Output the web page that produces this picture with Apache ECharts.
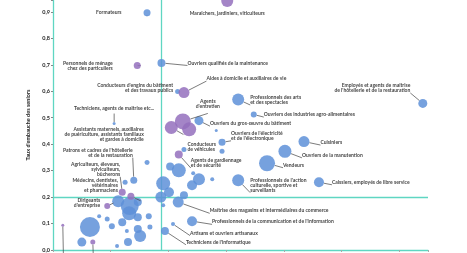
<!DOCTYPE html>
<html>
<head>
<meta charset="utf-8">
<script src="https://cdn.jsdelivr.net/npm/echarts@6/dist/echarts.min.js"></script>
<style>
html,body{margin:0;padding:0;background:#fff}
#chart{width:467px;height:253px}
</style>
</head>
<body>
<div id="chart"></div>
<script>
// métiers (noms affichés, '' = étiquette hors cadre)
var metiers = [
	'Maraîchers, jardiniers, viticulteurs',
	'Formateurs',
	'Personnels de ménage\nchez des particuliers',
	'Ouvriers qualifiés de la maintenance',
	'Aides à domicile et auxiliaires de vie',
	"Conducteurs d'engins du bâtiment\net des travaux publics",
	"Employés et agents de maîtrise\nde l'hôtellerie et de la restauration",
	'Professionnels des arts\net des spectacles',
	'Ouvriers des industries agro-alimentaires',
	'Techniciens, agents de maîtrise etc...',
	"Agents\nd'entretien",
	'Assistants maternels, auxiliaires\nde puériculture, assistants familiaux\net gardes à domicile',
	'Ouvriers du gros-œuvre du bâtiment',
	"Ouvriers de l'électricité\net de l'électronique",
	'Conducteurs\nde véhicules',
	'Agents de gardiennage\net de sécurité',
	'Cuisiniers',
	'Ouvriers de la manutention',
	'Vendeurs',
	"Professionnels de l'action\nculturelle, sportive et\nsurveillants",
	'Caissiers, employés de libre service',
	'Maîtrise des magasins et intermédiaires du commerce',
	"Professionnels de la communication et de l'information",
	'Artisans et ouvriers artisanaux',
	"Techniciens de l'informatique",
	"Patrons et cadres de l'hôtellerie\net de la restauration",
	'Agriculteurs, éleveurs,\nsylviculteurs,\nbûcherons',
	'Médecins, dentistes,\nvétérinaires\net pharmaciens',
	"Dirigeants\nd'entreprise",
	'', '',
	'-', '-', '-', '-', '-', '-', '-', '-', '-', '-',
	'-', '-', '-', '-', '-', '-', '-', '-', '-', '-',
	'-', '-', '-', '-', '-', '-', '-', '-', '-', '-',
	'-', '-', '-', '-'
];
// axe horizontal (hors cadre)
var indicateur = [
	3.02, 1.63, 1.46, 1.88, 2.27, 2.16, 6.41, 3.21, 3.48, 1.06,
	2.25, 2.05, 2.53, 2.93, 2.27, 2.18, 4.35, 4.02, 3.71, 3.21,
	4.61, 2.17, 2.41, 2.08, 1.94, 1.40, 1.20, 1.35, 0.94,
	0.17, 0.69,
	2.36, 1.63, 1.25, 2.18, 2.03, 2.43, 2.53, 2.41, 2.76, 1.91,
	2.01, 1.87, 2.27, 1.91, 1.33, 1.13, 1.47, 1.32, 1.47, 1.66,
	1.20, 1.02, 0.94, 0.80, 0.64, 1.47, 1.51, 1.28, 1.68, 1.30,
	1.11, 0.50, 2.83, 2.93
];
// taux d'embauche des seniors
var tauxSeniors = [
	0.941, 0.897, 0.697, 0.707, 0.595, 0.599, 0.554, 0.569, 0.512, 0.478,
	0.486, 0.463, 0.489, 0.407, 0.380, 0.361, 0.410, 0.373, 0.328, 0.264,
	0.256, 0.181, 0.109, 0.098, 0.072, 0.264, 0.218, 0.203, 0.166,
	0.094, 0.030,
	0.456, 0.331, 0.256, 0.301, 0.316, 0.290, 0.267, 0.245, 0.267, 0.252,
	0.218, 0.200, 0.207, 0.169, 0.166, 0.184, 0.181, 0.139, 0.124, 0.128,
	0.105, 0.090, 0.117, 0.128, 0.087, 0.079, 0.053, 0.072, 0.087, 0.030,
	0.015, 0.030, 0.452, 0.373
];
// taille des bulles
var effectifs = [
	288, 98, 98, 128, 242, 50, 162, 288, 72, 18,
	512, 338, 162, 98, 50, 128, 242, 338, 512, 288,
	200, 242, 200, 32, 128, 98, 98, 98, 72,
	18, 50,
	392, 50, 50, 392, 128, 32, 288, 200, 32, 392,
	200, 242, 128, 32, 648, 288, 128, 392, 128, 72,
	128, 72, 50, 32, 800, 128, 288, 32, 50, 128,
	32, 162, 18, 50
];
// v = violet, b = bleu
var groupe = [
	'v', 'b', 'v', 'b', 'v', 'b', 'b', 'b', 'b', 'b',
	'v', 'v', 'b', 'b', 'b', 'v', 'b', 'b', 'b', 'b',
	'b', 'b', 'b', 'b', 'b', 'b', 'v', 'v', 'v',
	'v', 'v',
	'v', 'b', 'b', 'b', 'b', 'b', 'b', 'b', 'b', 'b',
	'b', 'b', 'b', 'b', 'b', 'b', 'b', 'b', 'b', 'b',
	'b', 'b', 'b', 'b', 'b', 'b', 'b', 'b', 'b', 'b',
	'b', 'b', 'b', 'b'
];
var yTickLabels = ['0,0', '0,1', '0,2', '0,3', '0,4', '0,5', '0,6', '0,7', '0,8', '0,9'];
var repereX = 1.872;	//ligne verticale
var repereY = 0.205;	//ligne horizontale

// placement des étiquettes : [position, distance, dx, dy, trait]
var etiquettes = [
	['bottom', 4, 0, 0, false],
	['left', 22, 0, 0, true],
	['left', 21, 0, 0, true],
	['right', 22, 0, 0, true],
	['right', 17, 0, -14, true],
	['left', 2, 0, -4, false],
	['left', 8, 0, -15.5, true],
	['right', 6, 0, 0.5, true],
	['right', 7, 0, 0, true],
	['top', 11, 0, 0, true],
	['top', 5, 25, 0, true],
	['left', 21, 0, 7, true],
	['right', 6.5, 0, 3, true],
	['right', 5.5, 0, -6.5, true],
	['right', 1, 0, -2.5, false],
	['right', 8, 0, 8.5, true],
	['right', 11, 0, 1, true],
	['right', 10.5, 0, 4, true],
	['right', 8, 0, 2, true],
	['right', 6, 0, 5, true],
	['right', 8, 0, 0, true],
	['right', 26, 0, 8.7, true],
	['right', 15, 0, 0.7, true],
	['right', 15, 0, 9, true],
	['right', 17, 0, 11.3, true],
	['left', 0, 2.5, -27.5, true],
	['left', 0, 1.5, -23, true],
	['left', 9.5, 0, -10.5, true],
	['left', 4, 0, -3, true],
	['bottom', 30, 0, 0, true],
	['bottom', 15, 0, 0, true]
];

var teal = '#5fd6c2';
var texte = '#222222';

function buildData(g) {
	var out = [];
	for (var i = 0; i < metiers.length; i++) {
		if (groupe[i] != g) continue;
		var item = { name: metiers[i], value: [indicateur[i], tauxSeniors[i], effectifs[i]] };
		var e = etiquettes[i];
		if (e) {
			item.label = {
				show: true,
				position: e[0],
				distance: e[1],
				offset: [e[2], e[3]],
				formatter: metiers[i] === '' ? ' ' : '{b}'
			};
			item.labelLine = { show: e[4] };
		}
		out.push(item);
	}
	return out;
}

var dom = document.getElementById('chart');
var myChart = echarts.init(dom, null, { renderer: 'canvas' });

var bulle = function (v) { return Math.sqrt(v[2]) * 0.707; };
var labelCommun = {
	show: false,
	color: texte,
	fontFamily: 'Lato',
	fontWeight: 'bold',
	fontSize: 5,
	lineHeight: 5
};
var traitCommun = {
	show: false,
	lineStyle: { color: '#444', width: 0.7 }
};

var option = {
	animation: false,
	grid: { left: 53, right: 39, top: 0, bottom: 2 },
	xAxis: {
		type: 'value',
		min: 0,
		max: 6.5,
		interval: 1,
		axisLine: { show: true, lineStyle: { color: teal, width: 1.3 } },
		axisTick: { show: true, length: 2, lineStyle: { color: '#aaa' } },
		axisLabel: { show: false },
		splitLine: { show: false }
	},
	yAxis: {
		type: 'value',
		min: 0,
		max: 0.945,
		interval: 0.1,
		name: "Taux d'embauche des seniors",
		nameLocation: 'middle',
		nameGap: 12,
		nameTextStyle: { color: texte, fontFamily: 'Lato', fontWeight: 'bold', fontSize: 5.5 },
		axisLine: { show: true, lineStyle: { color: teal, width: 1.3 } },
		axisTick: { show: true, length: 2, lineStyle: { color: '#888' } },
		axisLabel: {
			margin: 3,
			color: texte,
			fontFamily: 'Lato',
			fontWeight: 'bold',
			fontSize: 5.5,
			formatter: function (v) {
				var i = Math.round(v * 10);
				if (Math.abs(v * 10 - i) > 1e-6 || i >= yTickLabels.length) return '';
				return yTickLabels[i];
			}
		},
		splitLine: { show: false }
	},
	series: [
		{
			type: 'scatter',
			z: 3,
			clip: false,
			symbolSize: bulle,
			itemStyle: { color: '#5e90d8', opacity: 0.85 },
			label: labelCommun,
			labelLine: traitCommun,
			data: buildData('b'),
			markLine: {
				z: 1,
				silent: true,
				symbol: 'none',
				label: { show: false },
				lineStyle: { color: teal, width: 1.3, type: 'solid', opacity: 1 },
				emphasis: { disabled: true },
				data: [{ xAxis: repereX }, { yAxis: repereY }]
			}
		},
		{
			type: 'scatter',
			z: 4,
			clip: false,
			symbolSize: bulle,
			itemStyle: { color: '#9470bd', opacity: 0.85 },
			label: labelCommun,
			labelLine: traitCommun,
			data: buildData('v')
		}
	]
};

myChart.setOption(option, true);
</script>
</body>
</html>
